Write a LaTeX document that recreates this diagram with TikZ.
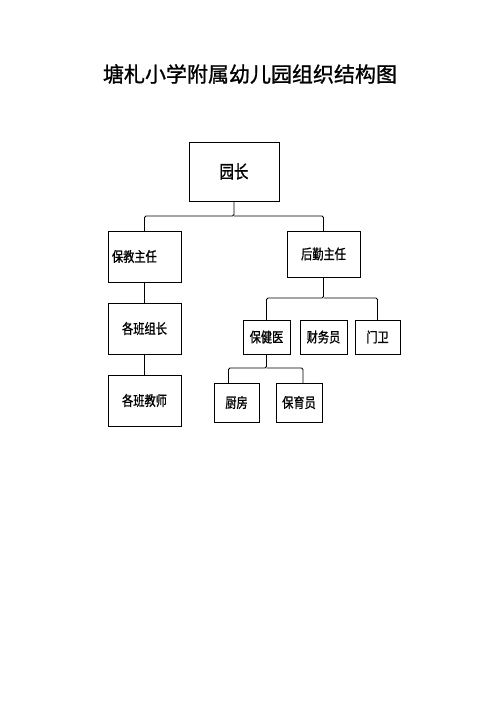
\documentclass[tikz,border=0pt]{standalone}
\usepackage{fontspec}
\newfontfamily\cjk[FakeBold=1]{Noto Sans CJK SC}
\newfontfamily\cjknarrow[FakeStretch=0.8, FakeBold=1]{Noto Sans CJK SC}
\usetikzlibrary{positioning}

\begin{document}
\begin{tikzpicture}[x=1pt, y=-1pt,
    box/.style={draw, line width=0.8pt, inner sep=0, outer sep=0, font=\cjknarrow\fontsize{14}{14}\selectfont},
    small/.style={box, minimum width=47, minimum height=34},
    link/.style={line width=0.8pt, rounded corners=1.5pt}
  ]
  \fill[white] (0,0) rectangle (500,708);
  \useasboundingbox (0,0) rectangle (500,708);
  \node (T) at (250,74) {\cjk\fontsize{21}{21}\selectfont 塘札小学附属幼儿园组织结构图};
  \node[box, minimum width=90, minimum height=59, font=\cjknarrow\fontsize{18}{18}\selectfont] (YZ) at (234,171.5) {园长};
  \node[box, minimum width=73, minimum height=51, text width=65, align=left] (BJ) at (144.5,256.5) {保教主任};
  \node[box, minimum width=73, minimum height=46] (HQ) at (323.5,254) {后勤主任};
  \node[box, minimum width=73, minimum height=51] (GZ) at (144.5,328.5) {各班组长};
  \node[box, minimum width=73, minimum height=51] (GJ) at (144.5,400.5) {各班教师};
  \node[small] (BJY) at (266.5,337) {保健医};
  \node[small] (CW) at (323.5,337) {财务员};
  \node[small, minimum width=45] (MW) at (377.5,337) {门卫};
  \node[small, minimum width=45, minimum height=39] (CF) at (236.5,402.5) {厨房};
  \node[small, minimum width=46, minimum height=39] (BYY) at (299,402.5) {保育员};

  \draw[link] (YZ.south) -- ++(0,15) coordinate (top) -| (BJ.north);
  \draw[link] (top) -| (HQ.north);
  \draw[link] (BJ.south) -- (GZ.north) (GZ.south) -- (GJ.north);
  \draw[link] (HQ.south) -- ++(0,21) coordinate (hq) -| (BJY.north);
  \draw[link] (hq) -| (MW.north);
  \draw[link] (BJY.south) -- ++(0,14) coordinate (bjy) -| ([xshift=-8]CF.north);
  \draw[link] (bjy) -| ([xshift=4]BYY.north);
\end{tikzpicture}
\end{document}
